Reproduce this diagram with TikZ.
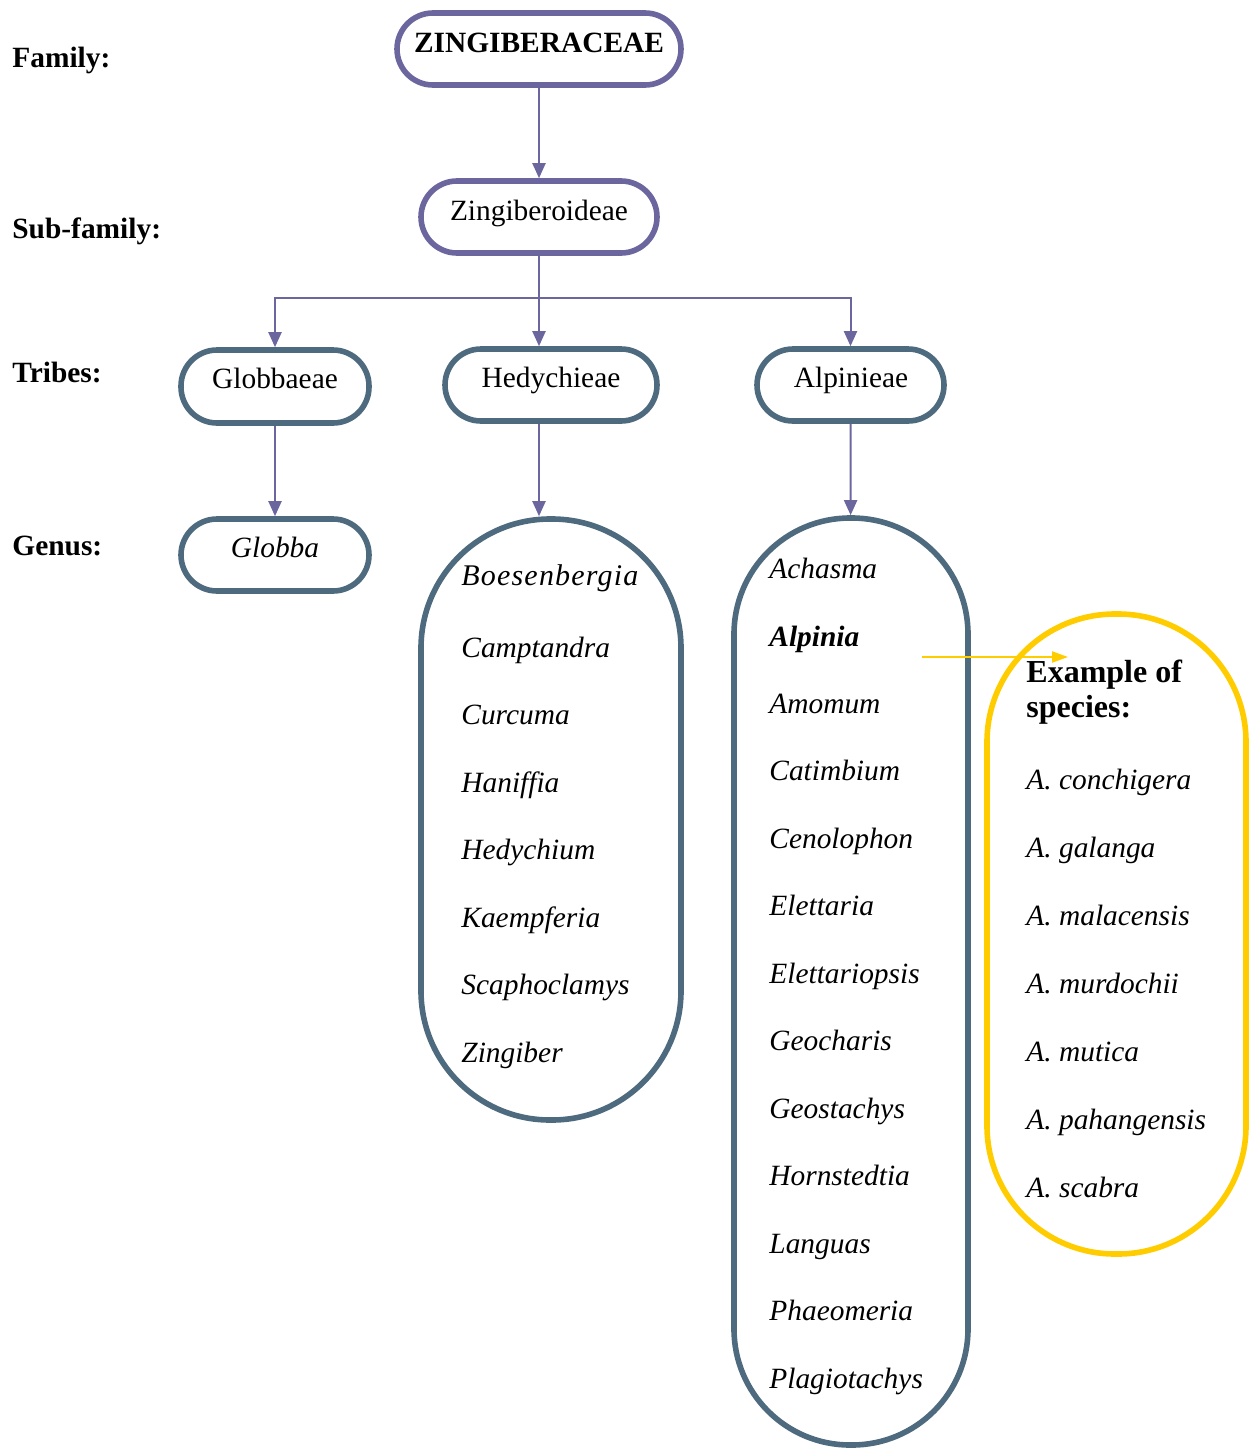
\documentclass[tikz,border=0pt]{standalone}
\usepackage{fontspec}
\setmainfont{Liberation Serif}
\usetikzlibrary{arrows.meta}
\definecolor{purp}{HTML}{6B679E}
\definecolor{steel}{HTML}{4E6A7E}
\definecolor{gold}{HTML}{FFCC00}
\begin{document}
\begin{tikzpicture}[x=0.5pt,y=-0.5pt,
  famnode/.style={draw=purp, line width=2.8pt, rounded corners=18pt, rectangle, inner sep=0pt},
  tribenode/.style={draw=steel, line width=2.8pt, rounded corners=18pt, rectangle, inner sep=0pt},
  gennode/.style={draw=steel, line width=2.8pt, rectangle, inner sep=0pt},
  spnode/.style={draw=gold, line width=2.8pt, rectangle, inner sep=0pt},
  conn/.style={draw=purp, line width=1pt, -{Triangle[length=7.5pt,width=6.5pt]}},
  yconn/.style={draw=gold, line width=1pt, -{Triangle[length=8pt,width=5.5pt]}},
  lab/.style={anchor=base west, inner sep=0pt, font=\fontsize{14.7}{17}\selectfont\bfseries},
  ctxt/.style={anchor=base, inner sep=0pt, font=\fontsize{14.7}{17}\selectfont},
  itxt/.style={anchor=base west, inner sep=0pt, font=\fontsize{14.7}{17}\selectfont\itshape},
  bhead/.style={anchor=base west, inner sep=0pt, font=\fontsize{16}{17.5}\selectfont\bfseries},
]
\useasboundingbox (0,0) rectangle (1257,1451);

% level labels
\node[lab] (lfam) at (12,67) {Family:};
\node[lab] (lsub) at (12,238) {Sub-family:};
\node[lab] (ltri) at (12,382) {Tribes:};
\node[lab] (lgen) at (12,555) {Genus:};

% boxes
\node[famnode, minimum width=142pt, minimum height=36pt] (zing) at (539,49) {};
\node[famnode, minimum width=118pt, minimum height=36pt] (sub) at (539,217) {};
\node[tribenode, minimum width=94pt, minimum height=36.5pt] (glob) at (275,386.5) {};
\node[tribenode, minimum width=106pt, minimum height=36pt] (hedy) at (551,385) {};
\node[tribenode, minimum width=93.5pt, minimum height=36pt] (alp) at (850.5,385) {};
\node[tribenode, minimum width=94pt, minimum height=36pt] (globba) at (275,555) {};
\node[gennode, rounded corners=64.5pt, minimum width=130pt, minimum height=300.5pt] (hedygen) at (551,819.5) {};
\node[gennode, rounded corners=58pt, minimum width=117pt, minimum height=463.5pt] (alpgen) at (851,981.5) {};
\node[spnode, rounded corners=64pt, minimum width=129.5pt, minimum height=320pt] (spec) at (1116.5,934) {};

% box texts
\node[ctxt, font=\fontsize{14.7}{17}\selectfont\bfseries] (tzing) at (539,52) {ZINGIBERACEAE};
\node[ctxt] (tsub) at (539,220) {Zingiberoideae};
\node[ctxt] (tglob) at (275,388) {Globbaeae};
\node[ctxt] (thedy) at (551,387) {Hedychieae};
\node[ctxt] (talp) at (851,387) {Alpinieae};
\node[ctxt, font=\fontsize{14.7}{17}\selectfont\itshape] (tglobba) at (275,557) {Globba};

% Hedychieae genera
\node[itxt, font=\fontsize{15}{17}\selectfont\itshape\addfontfeature{LetterSpace=4}] (h1) at (461,585) {Boesenbergia};
\foreach \g [count=\i] in {Camptandra,Curcuma,Haniffia,Hedychium,Kaempferia,Scaphoclamys,Zingiber}
  \node[itxt] (h\i x) at (461,657+67.5*\i-67.5) {\g};

% Alpinieae genera
\node[itxt] (a1) at (769,578) {Achasma};
\node[itxt, font=\fontsize{14.7}{17}\selectfont\bfseries\itshape] (a2) at (769,646) {Alpinia};
\foreach \g [count=\i] in {Amomum,Catimbium,Cenolophon,Elettaria,Elettariopsis,Geocharis,Geostachys,Hornstedtia,Languas,Phaeomeria,Plagiotachys}
  \node[itxt] (a\i x) at (769,713+67.5*\i-67.5) {\g};

% species
\node[bhead] (sh1) at (1026,682) {Example of};
\node[bhead] (sh2) at (1026,717) {species:};
\foreach \s [count=\i] in {A. conchigera,A. galanga,A. malacensis,A. murdochii,A. mutica,A. pahangensis,A. scabra}
  \node[itxt] (s\i) at (1026,789+68*\i-68) {\s};

% connectors
\coordinate (j) at (539,298);
\draw[conn] (zing) -- (sub);
\draw[draw=purp, line width=1pt] (sub.south) -- (j);
\draw[draw=purp, line width=1pt] (glob.north |- j) -- (alp.north |- j);
\draw[conn] (j) -| (glob.north);
\draw[conn] (j) -- (j |- hedy.north);
\draw[conn] (j) -| (alp.north);
\draw[conn] (glob) -- (globba);
\draw[conn] (hedy.south -| j) -- (hedygen.north -| j);
\draw[conn] (alp) -- (alpgen);

% yellow arrow
\coordinate (ya) at (922,657);
\coordinate (yb) at (1068,657);
\draw[yconn] (ya) -- (yb);
\end{tikzpicture}
\end{document}
